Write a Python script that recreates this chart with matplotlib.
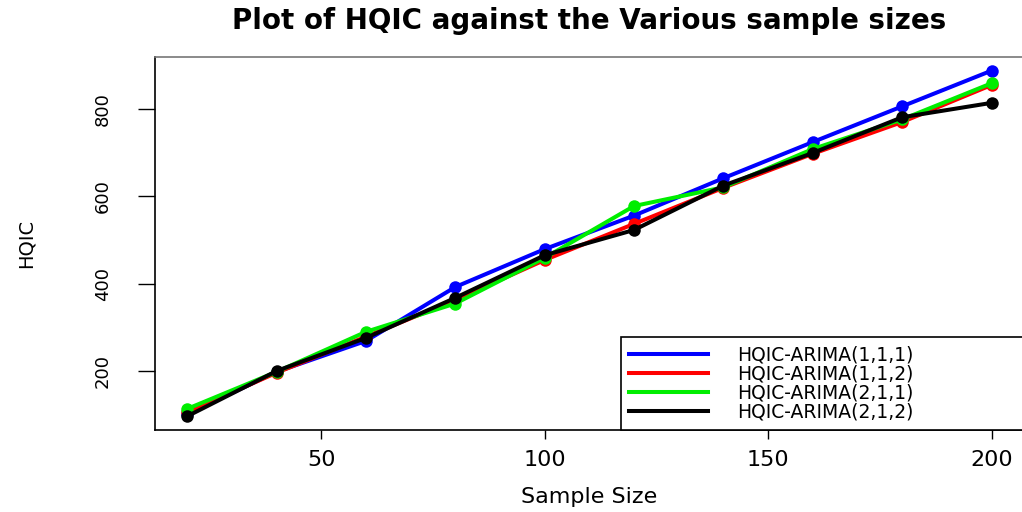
import matplotlib
matplotlib.use('Agg')
import matplotlib.pyplot as plt

# tamanhos de amostra e valores de HQIC
tamanhos = [20, 40, 60, 80, 100, 120, 140, 160, 180, 200]
hqic_111 = [100, 197, 268, 392, 479, 556, 642, 725, 807, 889]
hqic_112 = [104, 195, 278, 362, 454, 537, 620, 698, 771, 856]
hqic_211 = [112, 197, 289, 354, 459, 578, 621, 709, 777, 860]
hqic_212 = [95, 199, 275, 367, 465, 523, 625, 700, 782, 815]

rotulos = ["HQIC-ARIMA(1,1,1)", "HQIC-ARIMA(1,1,2)", "HQIC-ARIMA(2,1,1)", "HQIC-ARIMA(2,1,2)"]
cores = ["#0000ff", "#ff0000", "#00ee00", "#000000"]

plt.rcParams['font.family'] = ['DejaVu Sans']

fig = plt.figure(figsize=(10.22, 5.12), dpi=100)
ax = fig.add_axes([0.1517, 0.160, 0.850, 0.729])

series = [hqic_111, hqic_112, hqic_211, hqic_212]
for valores, cor in zip(series, cores):
    ax.plot(tamanhos, valores, color=cor, linewidth=2.9, marker='o',
            markersize=9, markeredgewidth=0, solid_capstyle='round')

# limites estilo R (4% de folga)
xmin, xmax = min(tamanhos), max(tamanhos)
todos = hqic_111 + hqic_112 + hqic_211 + hqic_212
ymin, ymax = min(todos), max(todos)
dx = (xmax - xmin) * 0.04
dy = (ymax - ymin) * 0.04
ax.set_xlim(xmin - dx, xmax + dx)
ax.set_ylim(ymin - dy, ymax + dy)

ax.set_xticks([50, 100, 150, 200])
ax.set_yticks([200, 400, 600, 800])
ax.tick_params(axis='x', length=6.5, width=1, pad=8, labelsize=16)
ax.tick_params(axis='y', length=12, width=1, pad=19, labelsize=13, labelrotation=90)
for lab in ax.get_yticklabels():
    lab.set_verticalalignment('center')

for lado in ['left', 'bottom', 'right', 'top']:
    ax.spines[lado].set_linewidth(1.2)
ax.spines['top'].set_color('#777777')

ax.set_title("Plot of HQIC against the Various sample sizes", fontsize=20,
             fontweight='bold', pad=20)
ax.set_xlabel("Sample Size", fontsize=16, labelpad=12)
ax.set_ylabel("HQIC", fontsize=14, labelpad=42)

# legenda no canto inferior direito (a caixa passa da borda como no original)
handles = [plt.Line2D([], [], color=c, linewidth=2.9) for c in cores]
leg = ax.legend(handles, rotulos, loc='lower left',
                bbox_to_anchor=(0.536, 0.0, 0.48, 0.257), mode='expand',
                fontsize=13.5, frameon=True, fancybox=False, framealpha=1,
                edgecolor='black', handlelength=4.2, handletextpad=1.55,
                labelspacing=0.0, borderpad=0.45, borderaxespad=0)
leg.get_frame().set_linewidth(1.2)

fig.savefig("out.png", dpi=100)
